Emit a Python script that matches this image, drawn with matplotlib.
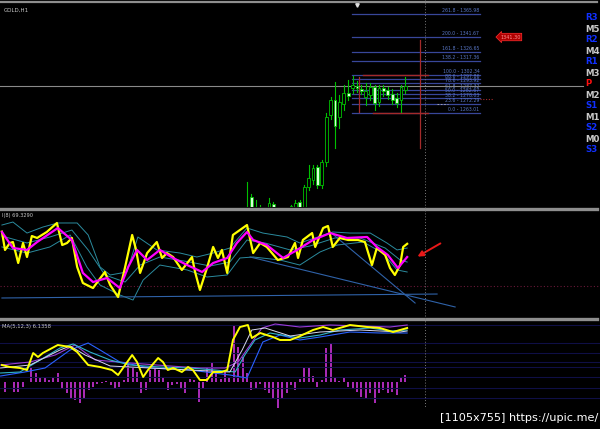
import matplotlib
matplotlib.use("Agg")
import matplotlib.pyplot as plt
from matplotlib.lines import Line2D
from matplotlib.patches import Rectangle

W, H = 600, 429

# ---- GOLD H1 candles (bar index, OHLC) ----
candle_bars = list(range(56, 93))
opens = [1150, 1176, 1160, 1166, 1155, 1160, 1169, 1158, 1152, 1150, 1160, 1163, 1171,
         1160, 1186, 1194, 1207, 1188, 1212, 1261, 1276, 1259, 1272, 1284, 1289, 1291,
         1288, 1280, 1282, 1290, 1274, 1289, 1287, 1283, 1279, 1276, 1287]
highs = [1192, 1179, 1173, 1168, 1163, 1175, 1171, 1162, 1158, 1163, 1168, 1173, 1173,
         1188, 1209, 1209, 1209, 1214, 1263, 1280, 1295, 1282, 1292, 1297, 1301, 1296,
         1292, 1294, 1294, 1292, 1292, 1292, 1290, 1288, 1284, 1292, 1300]
lows = [1140, 1150, 1152, 1150, 1148, 1155, 1152, 1148, 1145, 1147, 1155, 1158, 1155,
        1155, 1183, 1190, 1185, 1185, 1208, 1257, 1227, 1248, 1266, 1276, 1284, 1285,
        1283, 1271, 1276, 1266, 1270, 1281, 1277, 1272, 1269, 1264, 1284]
closes = [1162, 1160, 1166, 1155, 1160, 1170, 1158, 1152, 1150, 1160, 1167, 1170, 1160,
          1186, 1196, 1206, 1188, 1212, 1259, 1276, 1250, 1274, 1284, 1281, 1292, 1289,
          1286, 1286, 1290, 1273, 1289, 1286, 1282, 1276, 1273, 1290, 1291]

# Fibonacci grid
fib_ratios = [261.8, 200.0, 161.8, 138.2, 100.0, 88.6, 78.6, 61.8, 50.0, 38.2, 23.6, 0.0]
fib_low, fib_high = 1263.01, 1302.34

pivot_names = ["R3", "M5", "R2", "M4", "R1", "M3", "P", "M2", "S1", "M1", "S2", "M0", "S3"]
pivot_colors = ["#1030ff", "#c8c8c8", "#1030ff", "#c8c8c8", "#1030ff", "#c8c8c8", "#ff1010",
                "#c8c8c8", "#1030ff", "#c8c8c8", "#1030ff", "#c8c8c8", "#1030ff"]

# ---- RSI(8) window ----
rsi_x = [0.3, 1.0, 2.1, 2.8, 4.0, 5.1, 6.0, 7.1, 8.3, 10.5, 12.8, 14.0, 15.1, 16.2, 17.4, 18.7,
         21.0, 23.7, 24.9, 26.7, 28.3, 29.9, 30.8, 31.7, 33.3, 35.5, 36.7, 37.8, 39.2, 41.2,
         43.5, 44.2, 45.3, 46.9, 48.3, 49.4, 50.3, 51.5, 52.8, 56.0, 57.4, 59.0, 60.5, 63.0,
         65.3, 66.9, 67.6, 68.7, 70.8, 71.5, 73.3, 74.4, 75.5, 77.1, 79.0, 81.2, 82.8, 84.4,
         85.5, 87.4, 88.5, 89.6, 90.8, 91.5, 92.4]
rsi_y = [80.7, 63.6, 70.1, 71.0, 51.4, 70.1, 57.0, 76.6, 74.8, 80.4, 88.8, 68.2, 70.1, 74.8, 47.7,
         32.7, 28.0, 43.0, 30.8, 19.6, 47.7, 77.6, 63.6, 42.1, 60.7, 71.0, 56.1, 60.7, 57.0, 44.9,
         57.0, 43.0, 26.2, 46.7, 66.4, 56.1, 63.6, 42.1, 77.6, 86.9, 60.7, 70.1, 66.4, 54.2,
         57.0, 70.1, 56.1, 72.9, 79.4, 66.4, 84.1, 86.0, 66.4, 74.8, 72.9, 72.9, 71.0, 49.5,
         65.4, 58.9, 46.7, 40.2, 49.5, 66.4, 69.329]

sig_x = [0.3, 2.8, 6.0, 8.3, 13.0, 16.2, 18.7, 21.0, 24.2, 27.1, 29.0, 31.0, 33.3, 36.2, 39.2,
         42.4, 45.8, 48.3, 51.5, 53.7, 56.0, 57.4, 60.5, 64.2, 67.4, 71.0, 74.9, 78.7, 83.3,
         85.5, 88.0, 90.3, 92.4]
sig_y = [80.4, 65.4, 63.6, 71.0, 84.1, 72.9, 42.1, 33.6, 37.4, 28.0, 47.7, 63.6, 54.2, 63.6, 56.1,
         49.5, 43.0, 51.4, 56.1, 70.1, 80.4, 72.9, 68.2, 56.1, 63.6, 72.9, 79.4, 74.8, 75.7,
         66.4, 58.9, 46.7, 57.0]

band_up_x = [0.3, 2.8, 6.0, 9.6, 13.0, 17.4, 19.9, 22.6, 24.9, 28.7, 31.2, 35.5, 40.8, 44.6,
             48.3, 52.1, 56.0, 59.6, 65.1, 68.0, 75.5, 79.4, 84.0, 87.8, 90.1, 92.4]
band_up_y = [86.9, 89.7, 79.4, 85.0, 88.8, 88.8, 77.6, 47.7, 40.2, 43.0, 75.7, 63.6, 60.7, 57.0,
             60.7, 65.4, 84.1, 79.4, 75.7, 70.1, 80.4, 79.4, 79.4, 70.1, 63.6, 65.4]
band_mid_x = [0.3, 6.0, 11.2, 16.2, 19.9, 23.7, 28.3, 31.7, 36.2, 43.0, 47.6, 52.1, 56.0, 60.1,
              65.8, 70.3, 76.0, 81.7, 87.4, 90.8, 92.4]
band_mid_y = [76.6, 70.1, 75.7, 82.2, 63.6, 40.2, 33.6, 49.5, 57.0, 52.3, 48.6, 52.3, 72.9, 70.1,
              63.6, 67.3, 74.8, 74.8, 65.4, 54.2, 52.3]
band_lo_x = [0.3, 6.0, 11.2, 15.8, 19.6, 22.6, 27.1, 30.1, 32.4, 36.2, 42.4, 46.9, 51.5, 54.4,
             57.4, 63.5, 68.0, 72.6, 76.5, 82.4, 86.9, 90.1, 92.4]
band_lo_y = [66.4, 60.7, 66.4, 77.6, 47.7, 30.8, 21.5, 16.8, 35.5, 49.5, 44.9, 38.3, 40.2, 56.1,
             57.0, 54.2, 49.5, 61.7, 68.2, 71.0, 60.7, 44.9, 43.0]

# trendlines drawn on the RSI window: (x0, y0, x1, y1)
rsi_trends = [(0.3, 18.7, 99.2, 22.4),
              (56.7, 57.0, 103.3, 10.3),
              (74.9, 80.4, 94.2, 14.0)]

# ---- MA(5,12,3) window ----
hist = [0, -1.0, 0, -1.0, -1.0, -0.5, 0, 1.4, 0.9, 0.5, 0.4, 0.2, 0.4, 0.9, -0.6, -1.1,
        -1.6, -1.8, -2.1, -1.6, -0.8, -0.5, -0.2, -0.1, 0.1, -0.3, -0.6, -0.5, 0.2, 1.9,
        1.5, 1.0, -1.1, -0.8, 1.2, 1.4, 1.2, 0.5, -0.8, -0.3, -0.2, -0.6, -1.1, 0.3, 0.2,
        -2.0, -0.6, 1.4, 1.9, 0.9, 0.3, 1.0, 0.5, 5.7, 3.5, 2.5, 0.9, -0.8, -0.6, -0.2,
        -0.8, -1.1, -1.6, -2.6, -1.6, -1.1, -0.3, -0.8, 0.3, 1.4, 1.4, 0.6, -0.5, 0.2,
        3.4, 3.9, 0.5, 0.1, 0.4, -0.5, -0.6, -1.0, -1.5, -1.6, -1.1, -2.1, -1.1, -0.8,
        -1.1, -1.0, -1.3, 0.4, 0.7]

macd_x = [0.3, 2.1, 4.4, 6.0, 7.4, 8.5, 9.6, 13.0, 15.8, 17.4, 19.9, 22.6, 25.3, 26.7, 28.3,
          29.9, 31.0, 32.4, 33.5, 35.8, 36.9, 38.0, 39.2, 41.2, 42.6, 43.7, 45.3, 46.9, 48.3,
          50.3, 51.5, 52.8, 54.4, 56.2, 57.1, 59.0, 61.9, 63.5, 65.8, 67.6, 71.0, 73.3, 75.5,
          79.4, 83.3, 86.2, 89.2, 92.4]
macd_y = [1.7, 1.5, 1.4, 1.2, 2.9, 2.5, 2.9, 3.7, 3.5, 3.0, 1.7, 1.5, 1.2, 0.7, 1.7,
          2.7, 2.0, 0.5, 1.2, 2.4, 2.0, 1.2, 1.4, 1.0, 1.5, 1.2, 0.2, 0.2, 1.0,
          1.0, 1.2, 4.2, 5.5, 5.7, 4.4, 4.9, 4.5, 4.2, 4.2, 4.5, 5.2, 5.5, 5.2,
          5.7, 5.5, 5.4, 5.0, 5.4]

teal_x = [0, 4.4, 9.0, 13.5, 16.5, 20.3, 24.9, 29.4, 36.2, 43.0, 48.7, 53.3, 55.5, 57.8, 61.2,
          68.0, 72.6, 77.1, 84.0, 88.5, 92.4]
teal_y = [0.9, 1.0, 2.2, 3.4, 3.8, 3.0, 2.2, 1.7, 1.5, 1.4, 1.2, 1.0, 2.7, 4.2, 4.9,
          4.4, 4.7, 5.2, 5.4, 5.1, 5.2]
blue_x = [0, 5.5, 10.1, 15.8, 19.9, 22.6, 27.1, 34.0, 43.0, 52.1, 56.0, 57.8, 59.6, 63.5, 68.0,
          72.6, 79.4, 86.2, 92.4]
blue_y = [0.6, 1.0, 1.4, 3.2, 3.9, 3.2, 2.0, 1.4, 1.2, 0.7, 0.4, 2.2, 4.0, 4.7, 4.2,
          4.5, 5.0, 4.9, 4.9]
violet_x = [0, 6.7, 12.4, 16.9, 21.5, 29.4, 38.5, 45.3, 51.0, 54.0, 56.7, 59.4, 62.4, 68.0,
            74.9, 81.7, 88.5, 92.4]
violet_y = [1.7, 2.0, 2.7, 3.7, 2.2, 1.9, 1.6, 1.4, 1.4, 2.0, 3.7, 5.4, 5.8, 5.5,
            5.7, 5.6, 5.5, 5.7]
pale_x = [0, 6.7, 13.5, 15.8, 19.2, 24.9, 34.0, 43.0, 52.1, 54.9, 57.1, 60.1, 65.8, 72.6,
          81.7, 90.8, 92.4]
pale_y = [1.4, 1.7, 3.2, 3.6, 2.7, 1.6, 1.4, 1.2, 1.0, 3.2, 5.2, 5.4, 4.6, 5.0,
          5.2, 5.0, 5.1]
macd_levels = [5.7, 3.9, 2.9, 2.0, 1.5, 0.5, -0.6, -1.6]

BG = "black"
XMIN, XMAX = -0.6 / 4.4, (W - 0.6) / 4.4


def fy(py):
    return 1 - py / H


fig = plt.figure(figsize=(W / 100, H / 100), dpi=100, facecolor=BG)

ax_p = fig.add_axes([0, fy(207), 1, 204 / H])
ax_r = fig.add_axes([0, fy(318), 1, 107 / H])
ax_m = fig.add_axes([0, 0, 1, 108 / H])
for ax in (ax_p, ax_r, ax_m):
    ax.set_facecolor(BG)
    ax.set_xlim(XMIN, XMAX)
    ax.axis("off")

# ---------------- price window ----------------
ax_p.set_ylim(1165.7, 1376.9)

fib_span = fib_high - fib_low
fib_prices = [fib_low + r / 100 * fib_span for r in fib_ratios]
for r, p in zip(fib_ratios, fib_prices):
    ax_p.plot([79.9, 109.0], [p, p], color="#38479a", lw=0.9, zorder=1)
    ax_p.text(108.8, p + 0.6, f"{r:.1f} - {p:.2f}", color="#5a78c8", fontsize=3.3,
              ha="right", va="bottom", zorder=2)

# red range box around the last bars
red = "#a42a2a"
ax_p.plot([82.4, 97.1], [fib_high, fib_high], color=red, lw=1.0, zorder=2)
ax_p.plot([84.6, 97.1], [fib_low, fib_low], color=red, lw=1.0, zorder=2)
ax_p.plot([81.5, 81.5], [1264.0, 1300.3], color=red, lw=0.9, zorder=2)
ax_p.plot([95.3, 95.3], [1226.8, 1338.6], color=red, lw=0.9, zorder=2)
ax_p.plot([109.0, 112.0], [1277.5, 1277.5], color=red, lw=0.8, ls=(0, (1, 1.5)))
ax_p.plot([99.2, 101.6], [1272.4, 1272.4], color="#b0b0b0", lw=0.6, ls=(0, (2, 2)))

# red price tag on the 200 level
ax_p.text(113.5, fib_prices[1], "1341.30", color="#ff9090", fontsize=3.6, ha="left", va="center",
          bbox=dict(boxstyle="larrow,pad=0.25", fc="#b00000", ec="#ff3030", lw=0.5))

# candles
for b, o, h, l, c in zip(candle_bars, opens, highs, lows, closes):
    ax_p.plot([b, b], [l, h], color="#00c000", lw=0.8, zorder=3)
    bottom, height = min(o, c), max(abs(c - o), 0.8)
    face = "black" if c >= o else "#d4ffd4"
    ax_p.add_patch(Rectangle((b - 0.3, bottom), 0.6, height, facecolor=face,
                             edgecolor="#00c000", lw=0.6, zorder=4))

# bid line and top marker
ax_p.axhline(closes[-1], xmax=583 / W, color="#8a8a8a", lw=0.8, zorder=2)
ax_p.plot(81, 1374.5, marker="v", color="#e0e0e0", ms=2.5)

ax_p.text(0.006, 0.975, "GOLD,H1", transform=ax_p.transAxes, color="#c8c8c8",
          fontsize=4, ha="left", va="top")

# pivot labels on the right edge
for i, (name, col) in enumerate(zip(pivot_names, pivot_colors)):
    fig.text(585 / W, fy(18 + i * 11), name, color=col, fontsize=6.2, fontweight="bold",
             ha="left", va="center")

# ---------------- RSI window ----------------
ax_r.set_ylim(0, 100)
ax_r.axhline(30, color="#6a1838", lw=0.8, ls=(0, (1, 2)))
for xs, ys in ((band_up_x, band_up_y), (band_mid_x, band_mid_y), (band_lo_x, band_lo_y)):
    ax_r.plot(xs, ys, color="#2b8b9e", lw=0.7)
for x0, y0, x1, y1 in rsi_trends:
    ax_r.plot([x0, x1], [y0, y1], color="#2f62a8", lw=0.8)
ax_r.plot(rsi_x, rsi_y, color="#ffff00", lw=1.6)
ax_r.plot(sig_x, sig_y, color="#ff00ff", lw=1.6)
ax_r.annotate("", xy=(94.2, 56.1), xytext=(100.5, 71.0),
              arrowprops=dict(arrowstyle="-|>", color="#e81818", lw=1.4, mutation_scale=8))
ax_r.text(0.004, 0.985, f"I(8) {rsi_y[-1]:.4f}", transform=ax_r.transAxes, color="#c8c8c8",
          fontsize=3.6, ha="left", va="top")

# ---------------- MA window ----------------
ax_m.set_ylim(-4.7, 6.1)
for lv in macd_levels:
    ax_m.axhline(lv, color="#0f0f45", lw=0.8)
ax_m.bar(range(len(hist)), hist, width=0.45, color="#a82ab4")
ax_m.plot(violet_x, violet_y, color="#9a3cd6", lw=0.8)
ax_m.plot(blue_x, blue_y, color="#2a62ff", lw=0.8)
ax_m.plot(teal_x, teal_y, color="#30b4c8", lw=0.8)
ax_m.plot(pale_x, pale_y, color="#d8d8f0", lw=0.7)
ax_m.plot(macd_x, macd_y, color="#ffff00", lw=1.4)
ax_m.text(0.004, 0.975, "MA(5,12,3) 6.1358", transform=ax_m.transAxes, color="#c8c8c8",
          fontsize=3.8, ha="left", va="top")

# window separators and the shared dotted time cursor
for py, lw in ((2, 1.6), (208.5, 2.4), (319, 2.4)):
    fig.add_artist(Line2D([0, 597 / W], [fy(py), fy(py)], color="#8e8e8e", lw=lw))
fig.add_artist(Line2D([425 / W, 425 / W], [fy(0), fy(408)], color="#7a7a7a", lw=0.7,
                      ls=(0, (1, 2))))

fig.text(440 / W, fy(418), "[1105x755] https://upic.me/", color="white", fontsize=8.1,
         ha="left", va="center")

fig.savefig("out.png", dpi=100, facecolor=BG)
